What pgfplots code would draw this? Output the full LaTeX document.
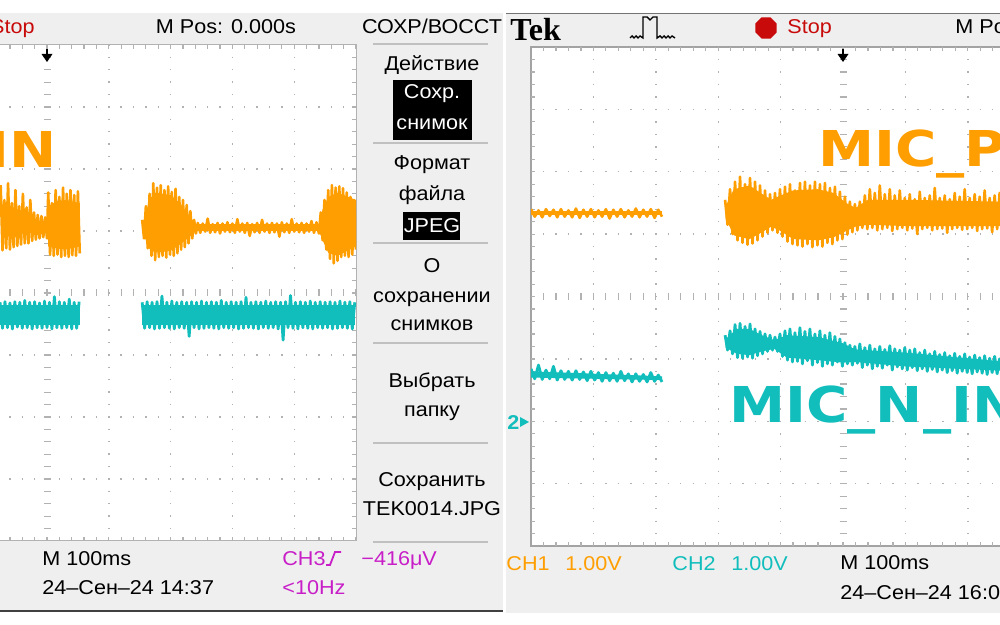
\documentclass[border=0pt]{standalone}
\usepackage{fontspec}
\setmainfont{Liberation Sans}[FakeStretch=1.08]
\newfontfamily\bigfont{DejaVu Sans}[FakeStretch=1.14]
\newfontfamily\tekfont{Liberation Serif}
\usepackage{pgfplots}
\pgfplotsset{compat=1.18}
\usetikzlibrary{shapes.geometric}
\definecolor{tro}{RGB}{255,158,0}
\definecolor{trc}{RGB}{18,190,188}
\definecolor{bgg}{RGB}{239,239,239}
\definecolor{grd}{RGB}{178,178,178}
\definecolor{sep}{RGB}{192,192,192}
\definecolor{mag}{RGB}{200,30,200}
\definecolor{stopred}{RGB}{200,10,10}
\newcommand\sz{\fontsize{10}{12}\selectfont}
\newcommand\bigsz{\bigfont\bfseries\fontsize{24.7}{26}\selectfont}
\tikzset{
  px/.style={x=0.5pt,y=-0.5pt,yshift=312.5pt},
  dotLv/.style={grd, line width=0.7pt, dash pattern=on 0.7pt off 5.5pt},
  dotLh/.style={grd, line width=0.7pt, dash pattern=on 0.7pt off 5.48pt},
  dotRv/.style={grd, line width=0.7pt, dash pattern=on 0.7pt off 5.54pt},
  dotRh/.style={grd, line width=0.7pt, dash pattern=on 0.7pt off 5.54pt},
  tk/.style={grd, line width=0.6pt},
  otr/.style={tro, line width=1.3pt, line join=round},
  ctr/.style={trc, line width=1.4pt, line join=round},
  ofill/.style={fill=tro, draw=none},
  cfill/.style={fill=trc, draw=none},
}
\begin{document}
\begin{tikzpicture}[font=\sz,every node/.style={inner sep=0pt}]
\begin{scope}[px]
% backgrounds
\fill[white] (0,0) rectangle (1000,625);
\fill[bgg] (0,13) rectangle (503,611);
\fill[bgg] (506,13) rectangle (1000,613);
\fill[white] (0,45) rectangle (356,541);
\fill[white] (531,47) rectangle (1000,546);
\draw[black!75, line width=1pt] (0,611) -- (503,611);
\draw[black!55, line width=0.6pt] (506,13.5) -- (1000,13.5);

% ---- left graticule
\foreach \x in {108.8,170.6,232.4,294.2} \draw[dotLv] (\x,44.3) -- (\x,541);
\foreach \y in {107,169,231,355,417,479} \draw[dotLh] (-3.14,\y) -- (356,\y);
\foreach \j in {1,...,39} \draw[tk] (43.5,{45+\j*12.4}) -- (50.5,{45+\j*12.4});
\foreach \k in {-3,...,25} \draw[tk] ({47+\k*12.36},289.5) -- ({47+\k*12.36},296.5);
\draw[grd, line width=0.5pt] (0,45) -- (356,45) -- (356,541) -- (0,541);
\foreach \k in {-3,...,25} {\draw[tk] ({47+\k*12.36},45) -- ++(0,4); \draw[tk] ({47+\k*12.36},541) -- ++(0,-4);}
\foreach \j in {1,...,39} \draw[tk] (356,{45+\j*12.4}) -- ++(-4,0);

% ---- right graticule
\foreach \x in {593.4,655.8,718.2,780.6,905.4,967.8} \draw[dotRv] (\x,46.3) -- (\x,546);
\foreach \y in {109.4,171.8,234.2,359,421.4,483.8} \draw[dotRh] (530.3,\y) -- (1000,\y);
\foreach \j in {1,...,39} \draw[tk] (839.5,{47+\j*12.48}) -- (846.5,{47+\j*12.48});
\foreach \k in {1,...,37} \draw[tk] ({531+\k*12.48},293) -- ({531+\k*12.48},300);
\draw[grd!120, line width=0.6pt] (1000,47) -- (531,47) -- (531,546) -- (1000,546);
\foreach \k in {1,...,37} {\draw[tk] ({531+\k*12.48},47) -- ++(0,4); \draw[tk] ({531+\k*12.48},546) -- ++(0,-4);}
\foreach \j in {1,...,39} \draw[tk] (531,{47+\j*12.48}) -- ++(4,0);
\end{scope}

% ---- left screen traces (time in ms, 100 ms/div; volts, 1 V/div)
\begin{axis}[at={(0pt,290pt)}, anchor=north west, width=178pt, height=248pt, scale only axis,
  xmin=-76.05, xmax=500, ymin=-4, ymax=4, hide axis, clip=true]
% dense cores of the bursts
\addplot[ofill] coordinates {(2,1.40)(15,1.48)(30,1.50)(53,1.45)(53,0.75)(30,0.70)(15,0.72)(2,0.75)} -- cycle;
\addplot[ofill] coordinates {(156,1.10)(165,1.50)(175,1.62)(200,1.58)(215,1.45)(230,1.25)(240,1.11)(440,1.11)(446,1.35)(455,1.55)(470,1.62)(500,1.50)(500,0.75)(470,0.60)(455,0.65)(446,0.85)(440,1.00)(240,1.00)(230,0.90)(215,0.78)(200,0.68)(175,0.65)(165,0.72)(156,0.95)} -- cycle;
\addplot[cfill] coordinates {(-76,-0.20)(53,-0.20)(53,-0.52)(-76,-0.52)} -- cycle;
\addplot[cfill] coordinates {(154,-0.20)(498,-0.20)(498,-0.52)(154,-0.52)} -- cycle;
% sampled traces
\addplot[otr] coordinates {(-75,1.74)(-72,0.69)(-69,1.50)(-66,0.72)(-63,1.77)(-60,0.70)(-57,1.45)(-54,0.74)(-51,1.66)(-48,0.76)(-45,1.40)(-42,0.78)(-39,1.60)(-36,0.80)(-33,1.38)(-30,0.80)(-27,1.50)(-24,0.84)(-21,1.30)(-18,0.86)(-15,1.26)(-12,0.88)(-9,1.24)(-6,0.90)(-3,1.22)(0,0.88)(2,1.62)(5,0.62)(8,1.45)(11,0.60)(14,1.66)(17,0.62)(20,1.55)(23,0.58)(26,1.70)(29,0.60)(32,1.60)(35,0.58)(38,1.66)(41,0.61)(44,1.58)(47,0.60)(50,1.64)(53,0.64)};
\addplot[otr] coordinates {(154,1.18)(157,0.88)(160,1.40)(163,0.72)(166,1.60)(169,0.60)(172,1.77)(175,0.53)(178,1.70)(181,0.58)(184,1.74)(187,0.60)(190,1.66)(193,0.57)(196,1.72)(199,0.62)(202,1.63)(205,0.60)(208,1.68)(211,0.64)(214,1.55)(217,0.70)(220,1.50)(223,0.74)(226,1.42)(229,0.80)(232,1.32)(235,0.88)(238,1.18)(241,0.96)
(244,1.13)(248,0.97)(252,1.12)(256,0.99)(260,1.20)(264,0.97)(268,1.11)(272,0.98)(276,1.13)(280,0.96)(284,1.12)(288,0.99)(292,1.14)(296,0.98)(300,1.12)(304,0.97)(308,1.19)(312,0.99)(316,1.12)(320,0.97)(324,1.13)(328,0.92)(332,1.11)(336,0.98)(340,1.13)(344,0.97)(348,1.18)(352,0.99)(356,1.12)(360,0.97)(364,1.13)(368,0.98)(372,1.12)(376,0.91)(380,1.14)(384,0.98)(388,1.12)(392,0.97)(396,1.19)(400,0.99)(404,1.12)(408,0.98)(412,1.13)(416,0.97)(420,1.12)(424,0.99)(428,1.16)(432,0.97)(436,1.14)(440,0.96)
(443,1.30)(446,0.85)(449,1.50)(452,0.70)(455,1.66)(458,0.55)(461,1.74)(464,0.48)(467,1.70)(470,0.52)(473,1.72)(476,0.58)(479,1.69)(482,0.60)(485,1.62)(488,0.58)(491,1.55)(494,0.62)(497,1.50)(500,0.70)};
\addplot[ctr] coordinates {(-76,-0.15)(-72,-0.57)(-68,-0.14)(-64,-0.56)(-60,-0.16)(-56,-0.58)(-52,-0.14)(-48,-0.55)(-44,-0.15)(-40,-0.57)(-36,-0.12)(-32,-0.56)(-28,-0.15)(-24,-0.58)(-20,-0.14)(-16,-0.56)(-12,-0.16)(-8,-0.57)(-4,-0.13)(0,-0.56)(4,-0.15)(8,-0.58)(12,-0.06)(16,-0.56)(20,-0.14)(24,-0.57)(28,-0.15)(32,-0.56)(36,-0.10)(40,-0.58)(44,-0.15)(48,-0.57)(52,-0.14)};
\addplot[ctr] coordinates {(154,-0.15)(158,-0.57)(162,-0.14)(166,-0.56)(170,-0.15)(174,-0.58)(178,-0.14)(182,-0.57)(186,-0.05)(190,-0.56)(194,-0.15)(198,-0.57)(202,-0.13)(206,-0.58)(210,-0.15)(214,-0.56)(218,-0.14)(222,-0.57)(226,-0.15)(230,-0.70)(234,-0.14)(238,-0.56)(242,-0.15)(246,-0.58)(250,-0.13)(254,-0.57)(258,-0.15)(262,-0.56)(266,-0.14)(270,-0.57)(274,-0.15)(278,-0.58)(282,-0.12)(286,-0.56)(290,-0.15)(294,-0.57)(298,-0.14)(302,-0.56)(306,-0.15)(310,-0.58)(314,-0.14)(318,-0.57)(322,-0.07)(326,-0.56)(330,-0.15)(334,-0.57)(338,-0.14)(342,-0.58)(346,-0.15)(350,-0.56)(354,-0.13)(358,-0.57)(362,-0.15)(366,-0.56)(370,-0.14)(374,-0.58)(378,-0.15)(382,-0.76)(386,-0.14)(390,-0.56)(394,-0.04)(398,-0.57)(402,-0.15)(406,-0.58)(410,-0.14)(414,-0.56)(418,-0.15)(422,-0.57)(426,-0.13)(430,-0.58)(434,-0.15)(438,-0.56)(442,-0.14)(446,-0.57)(450,-0.15)(454,-0.56)(458,-0.14)(462,-0.58)(466,-0.15)(470,-0.57)(474,-0.13)(478,-0.56)(482,-0.15)(486,-0.57)(490,-0.14)(494,-0.58)(498,-0.15)};
\end{axis}

% ---- right screen traces
\begin{axis}[at={(265.5pt,289pt)}, anchor=north west, width=234.5pt, height=249.5pt, scale only axis,
  xmin=-500, xmax=251.6, ymin=-4, ymax=4, hide axis, clip=true]
% dense cores
\addplot[ofill] coordinates {(-500,1.37)(-290,1.37)(-290,1.30)(-500,1.30)} -- cycle;
\addplot[ofill] coordinates {(-188,1.45)(-175,1.72)(-150,1.78)(-135,1.68)(-115,1.55)(-100,1.62)(-80,1.70)(-40,1.72)(-15,1.66)(5,1.50)(20,1.42)(40,1.55)(100,1.55)(255,1.52)(255,1.13)(100,1.13)(40,1.15)(20,1.12)(5,1.05)(-15,0.95)(-40,0.90)(-80,0.92)(-100,1.05)(-115,1.12)(-135,1.00)(-150,0.92)(-175,0.98)(-188,1.25)} -- cycle;
\addplot[cfill] coordinates {(-500,-1.20)(-290,-1.28)(-290,-1.34)(-500,-1.30)} -- cycle;
\addplot[cfill] coordinates {(-188,-0.68)(-170,-0.52)(-150,-0.52)(-130,-0.62)(-110,-0.70)(-90,-0.62)(-40,-0.65)(0,-0.75)(20,-0.85)(100,-0.90)(255,-1.04)(255,-1.19)(100,-1.12)(20,-1.05)(0,-1.06)(-40,-1.02)(-90,-0.98)(-110,-0.84)(-130,-0.88)(-150,-0.94)(-170,-0.92)(-188,-0.82)} -- cycle;
% sampled traces
\addplot[otr] coordinates {(-500,1.40)(-494,1.28)(-488,1.38)(-482,1.27)(-476,1.40)(-470,1.29)(-464,1.39)(-458,1.27)(-452,1.40)(-446,1.28)(-440,1.38)(-434,1.27)(-428,1.41)(-422,1.26)(-416,1.39)(-410,1.28)(-404,1.40)(-398,1.27)(-392,1.38)(-386,1.28)(-380,1.40)(-374,1.25)(-368,1.39)(-362,1.28)(-356,1.40)(-350,1.27)(-344,1.38)(-338,1.28)(-332,1.41)(-326,1.27)(-320,1.39)(-314,1.28)(-308,1.40)(-302,1.26)(-296,1.39)(-290,1.28)};
\addplot[otr] coordinates {(-189,1.55)(-185,1.15)(-181,1.72)(-177,1.00)(-173,1.84)(-169,0.90)(-165,1.92)(-161,0.86)(-157,1.80)(-153,0.83)(-149,1.90)(-145,0.85)(-141,1.84)(-137,0.90)(-133,1.78)(-129,0.96)(-125,1.70)(-121,1.02)(-117,1.64)(-113,1.06)(-109,1.66)(-105,1.02)(-101,1.72)(-97,0.96)(-93,1.76)(-89,0.88)(-85,1.80)(-81,0.84)(-77,1.70)(-73,0.82)(-69,1.82)(-65,0.80)(-61,1.84)(-57,0.84)(-53,1.78)(-49,0.79)(-45,1.84)(-41,0.82)(-37,1.80)(-33,0.80)(-29,1.82)(-25,0.86)(-21,1.74)(-17,0.84)(-13,1.76)(-9,0.90)(-5,1.68)(-1,0.92)(3,1.60)(7,0.99)(11,1.52)(15,1.03)(19,1.48)(23,1.06)(27,1.52)(31,1.10)(35,1.62)(39,1.08)(43,1.72)(47,1.10)(51,1.66)(55,1.06)(59,1.78)(63,1.08)(67,1.64)(71,1.10)(75,1.72)(79,1.05)(83,1.62)(87,1.08)(91,1.70)(95,1.10)(99,1.58)(103,1.06)(107,1.64)(111,1.09)(115,1.56)(119,1.00)(123,1.68)(127,1.08)(131,1.58)(135,1.10)(139,1.62)(143,1.06)(147,1.74)(151,1.08)(155,1.58)(159,1.09)(163,1.62)(167,1.02)(171,1.56)(175,1.08)(179,1.66)(183,1.10)(187,1.60)(191,1.07)(195,1.72)(199,1.08)(203,1.58)(207,1.10)(211,1.64)(215,1.05)(219,1.60)(223,1.08)(227,1.70)(231,1.09)(235,1.58)(239,1.03)(243,1.62)(247,1.08)(251,1.66)(255,1.07)};
\addplot[ctr] coordinates {(-500,-1.16)(-494,-1.32)(-488,-1.10)(-482,-1.33)(-476,-1.18)(-470,-1.32)(-464,-1.12)(-458,-1.34)(-452,-1.19)(-446,-1.33)(-440,-1.20)(-434,-1.34)(-428,-1.19)(-422,-1.33)(-416,-1.21)(-410,-1.35)(-404,-1.20)(-398,-1.34)(-392,-1.22)(-386,-1.36)(-380,-1.22)(-374,-1.35)(-368,-1.23)(-362,-1.36)(-356,-1.20)(-350,-1.35)(-344,-1.24)(-338,-1.37)(-332,-1.24)(-326,-1.36)(-320,-1.25)(-314,-1.37)(-308,-1.22)(-302,-1.36)(-296,-1.26)(-290,-1.37)};
\addplot[ctr] coordinates {(-189,-0.62)(-185,-0.86)(-181,-0.55)(-177,-0.92)(-173,-0.45)(-169,-0.98)(-165,-0.43)(-161,-0.99)(-157,-0.48)(-153,-0.97)(-149,-0.44)(-145,-0.99)(-141,-0.52)(-137,-0.95)(-133,-0.56)(-129,-0.92)(-125,-0.60)(-121,-0.88)(-117,-0.62)(-113,-0.86)(-109,-0.65)(-105,-0.88)(-101,-0.60)(-97,-0.96)(-93,-0.55)(-89,-1.02)(-85,-0.52)(-81,-1.05)(-77,-0.58)(-73,-1.04)(-69,-0.50)(-65,-1.08)(-61,-0.56)(-57,-1.03)(-53,-0.52)(-49,-1.10)(-45,-0.60)(-41,-1.06)(-37,-0.55)(-33,-1.12)(-29,-0.62)(-25,-1.08)(-21,-0.58)(-17,-1.10)(-13,-0.64)(-9,-1.05)(-5,-0.68)(-1,-1.12)(3,-0.74)(7,-1.08)(11,-0.78)(15,-1.10)(19,-0.80)(23,-1.07)(27,-0.76)(31,-1.14)(35,-0.82)(39,-1.10)(43,-0.78)(47,-1.16)(51,-0.84)(55,-1.12)(59,-0.80)(63,-1.15)(67,-0.85)(71,-1.10)(75,-0.79)(79,-1.18)(83,-0.84)(87,-1.13)(91,-0.86)(95,-1.16)(99,-0.82)(103,-1.18)(107,-0.86)(111,-1.14)(115,-0.84)(119,-1.19)(123,-0.90)(127,-1.16)(131,-0.86)(135,-1.20)(139,-0.92)(143,-1.17)(147,-0.88)(151,-1.21)(155,-0.93)(159,-1.18)(163,-0.90)(167,-1.22)(171,-0.95)(175,-1.19)(179,-0.91)(183,-1.23)(187,-0.96)(191,-1.20)(195,-0.92)(199,-1.22)(203,-0.97)(207,-1.24)(211,-0.94)(215,-1.21)(219,-0.98)(223,-1.23)(227,-0.95)(231,-1.25)(235,-0.99)(239,-1.22)(243,-0.96)(247,-1.24)(251,-1.00)(255,-1.23)};
\end{axis}

\begin{scope}[px]
% ---- trigger position arrows
\draw[black, line width=1pt] (47,49) -- (47,56);
\fill[black] (41.5,54) -- (52.5,54) -- (47,62) -- cycle;
\draw[black, line width=1pt] (843,49) -- (843,56);
\fill[black] (837.5,54) -- (848.5,54) -- (843,62) -- cycle;

% ---- left header
\node[anchor=base east, stopred] at (35,34) {Stop};
\node[anchor=base] at (226,34) {M Pos: 0.000s};
\node[anchor=base] at (432,34) {СОХР/ВОССТ};

% ---- left menu
\foreach \y in {44,143,243,343,443,542} \draw[sep, line width=1pt] (373,\y) -- (488,\y);
\fill[black] (393,80) rectangle (472,140);
\fill[black] (403,212) rectangle (460,240);
\node[anchor=base] at (432,71) {Действие};
\node[anchor=base, white] at (432,99) {Сохр.};
\node[anchor=base, white] at (432,130) {снимок};
\node[anchor=base] at (432,170) {Формат};
\node[anchor=base] at (432,201) {файла};
\node[anchor=base, white] at (432,233) {JPEG};
\node[anchor=base] at (432,273) {О};
\node[anchor=base] at (432,303) {сохранении};
\node[anchor=base] at (432,331) {снимков};
\node[anchor=base] at (432,388) {Выбрать};
\node[anchor=base] at (432,417) {папку};
\node[anchor=base] at (432,487) {Сохранить};
\node[anchor=base] at (432,516) {TEK0014.JPG};

% ---- left status bar
\node[anchor=base west] at (42,566) {M 100ms};
\node[anchor=base west] at (42,595) {24–Сен–24 14:37};
\node[anchor=base west, mag] at (282,566) {CH3};
\draw[mag, line width=0.9pt] (326,565) -- (330,565) -- (335,552) -- (341,552);
\node[anchor=base west, mag] at (361,566) {−416μV};
\node[anchor=base west, mag] at (282,595) {<10Hz};

% ---- right header
\node[anchor=base west, font={\tekfont\bfseries\fontsize{16}{18}\selectfont}] at (510,41) {Tek};
\draw[black, line width=0.7pt] (630,38) -- (632,36) -- (634,38) -- (636,36) -- (638,38) -- (640,36) -- (643,38) -- (643,17) -- (647,17) -- (650,20) -- (653,17) -- (657,17) -- (657,38) -- (660,36) -- (662,38) -- (664,36) -- (666,38) -- (668,36) -- (670,38) -- (672,36) -- (675,38);
\node[regular polygon, regular polygon sides=8, fill=stopred, minimum size=11.5pt, inner sep=0pt] at (766,28) {};
\node[anchor=base west, stopred] at (787,34) {Stop};
\node[anchor=base west] at (955,34) {M Pos: 0.000s};

% ---- right channel marker and status bar
\node[anchor=base west, trc, font=\bfseries\sz] at (507,430) {2};
\fill[trc] (520,417) -- (529,422) -- (520,427) -- cycle;
\node[anchor=base west, tro] at (506,571) {CH1};
\node[anchor=base west, tro] at (565,571) {1.00V};
\node[anchor=base west, trc] at (672,571) {CH2};
\node[anchor=base west, trc] at (731,571) {1.00V};
\node[anchor=base west] at (840,570) {M 100ms};
\node[anchor=base west] at (840,600) {24–Сен–24 16:05};

% ---- big signal labels
\node[anchor=base east, tro, font=\bigsz] at (57,168) {MIC\_P\_IN};
\node[anchor=base west, tro, font=\bigsz] at (818,167) {MIC\_P\_IN};
\node[anchor=base west, trc, font=\bigsz] at (729,423) {MIC\_N\_IN};
\end{scope}

\pgfresetboundingbox
\path[use as bounding box] (0pt,0pt) rectangle (500pt,312.5pt);
\end{tikzpicture}
\end{document}
